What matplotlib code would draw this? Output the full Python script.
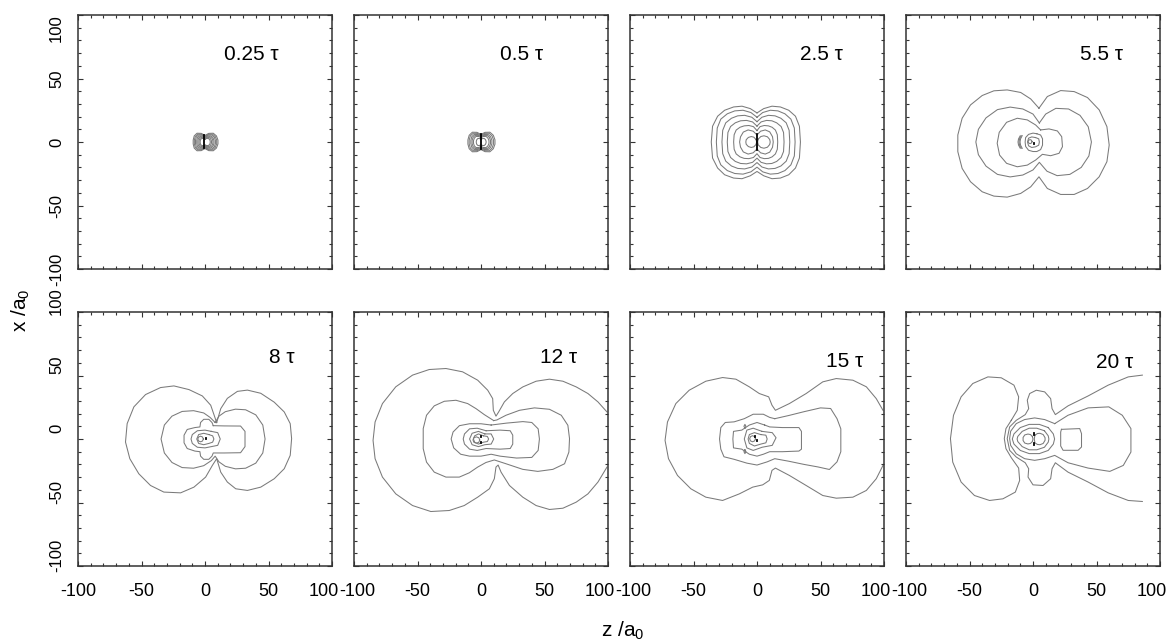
import matplotlib.pyplot as plt
import numpy as np
from matplotlib.ticker import MultipleLocator
from matplotlib.transforms import ScaledTranslation

plt.rcParams['font.family'] = ['Liberation Sans', 'DejaVu Sans']
plt.rcParams['mathtext.fontset'] = 'custom'
plt.rcParams['mathtext.rm'] = 'Liberation Sans'
plt.rcParams['mathtext.it'] = 'Liberation Sans:italic'
plt.rcParams['axes.unicode_minus'] = False

# ---------------------------------------------------------------
# data: contour vertices (z, x) in units of a0
# ---------------------------------------------------------------
panel_labels = ['0.25 τ', '0.5 τ', '2.5 τ', '5.5 τ', '8 τ', '12 τ', '15 τ', '20 τ']
ticks = [-100, -50, 0, 50, 100]

# 0.25 tau
c_025 = [
    [(0, 5.2), (3, 6.8), (6.5, 6.9), (9, 4.8), (10.2, 1.5), (10.2, -1.5), (9, -4.8), (6.5, -6.9), (3, -6.8), (0, -5.2),
     (-3, -6.8), (-6.3, -6.9), (-8.5, -4.8), (-9.3, -1.5), (-9.3, 1.5), (-8.5, 4.8), (-6.3, 6.9), (-3, 6.8), (0, 5.2)],
    [(0, 4.7), (2.7, 6.1), (5.9, 6.2), (8.1, 4.3), (9.2, 1.4), (9.2, -1.4), (8.1, -4.3), (5.9, -6.2), (2.7, -6.1), (0, -4.7),
     (-2.7, -6.1), (-5.7, -6.2), (-7.7, -4.3), (-8.4, -1.4), (-8.4, 1.4), (-7.7, 4.3), (-5.7, 6.2), (-2.7, 6.1), (0, 4.7)],
    [(0, 4.2), (2.5, 5.5), (5.2, 5.6), (7.3, 3.9), (8.2, 1.2), (8.2, -1.2), (7.3, -3.9), (5.2, -5.6), (2.5, -5.5), (0, -4.2),
     (-2.5, -5.5), (-5, -5.6), (-6.9, -3.9), (-7.5, -1.2), (-7.5, 1.2), (-6.9, 3.9), (-5, 5.6), (-2.5, 5.5), (0, 4.2)],
    [(0, 3.6), (2.1, 4.8), (4.6, 4.8), (6.3, 3.4), (7.1, 1.1), (7.1, -1.1), (6.3, -3.4), (4.6, -4.8), (2.1, -4.8), (0, -3.6),
     (-2.1, -4.8), (-4.4, -4.8), (-6, -3.4), (-6.5, -1.1), (-6.5, 1.1), (-6, 3.4), (-4.4, 4.8), (-2.1, 4.8), (0, 3.6)],
    [(0, 3.2), (1.9, 4.1), (3.9, 4.2), (5.5, 2.9), (6.2, 0.9), (6.2, -0.9), (5.5, -2.9), (3.9, -4.2), (1.9, -4.1), (0, -3.2),
     (-1.9, -4.1), (-3.8, -4.2), (-5.2, -2.9), (-5.6, -0.9), (-5.6, 0.9), (-5.2, 2.9), (-3.8, 4.2), (-1.9, 4.1), (0, 3.2)],
    [(0, 2.6), (1.5, 3.4), (3.3, 3.5), (4.5, 2.4), (5.1, 0.8), (5.1, -0.8), (4.5, -2.4), (3.3, -3.5), (1.5, -3.4), (0, -2.6),
     (-1.5, -3.4), (-3.2, -3.5), (-4.3, -2.4), (-4.7, -0.8), (-4.7, 0.8), (-4.3, 2.4), (-3.2, 3.5), (-1.5, 3.4), (0, 2.6)],
    [(0, 2.2), (1.3, 2.8), (2.6, 2.8), (3.7, 1.9), (4.1, 0.6), (4.1, -0.6), (3.7, -1.9), (2.6, -2.8), (1.3, -2.8), (0, -2.2),
     (-1.3, -2.8), (-2.5, -2.8), (-3.5, -1.9), (-3.8, -0.6), (-3.8, 0.6), (-3.5, 1.9), (-2.5, 2.8), (-1.3, 2.8), (0, 2.2)],
]
d_025 = [[(-0.4, 5.5), (-0.4, -4.5)]]

# 0.5 tau
c_05 = [
    [(0, 6), (3.2, 7.6), (7, 7.7), (9.7, 5.3), (11, 1.7), (11, -1.7), (9.7, -5.3), (7, -7.7), (3.2, -7.6), (0, -6),
     (-3.2, -7.6), (-6.8, -7.7), (-9.3, -5.3), (-10.3, -1.7), (-10.3, 1.7), (-9.3, 5.3), (-6.8, 7.7), (-3.2, 7.6), (0, 6)],
    [(0, 5.4), (2.9, 6.8), (6.3, 6.9), (8.7, 4.8), (9.9, 1.5), (9.9, -1.5), (8.7, -4.8), (6.3, -6.9), (2.9, -6.8), (0, -5.4),
     (-2.9, -6.8), (-6.1, -6.9), (-8.4, -4.8), (-9.3, -1.5), (-9.3, 1.5), (-8.4, 4.8), (-6.1, 6.9), (-2.9, 6.8), (0, 5.4)],
    [(0, 4.7), (2.5, 5.9), (5.5, 6), (7.6, 4.1), (8.6, 1.3), (8.6, -1.3), (7.6, -4.1), (5.5, -6), (2.5, -5.9), (0, -4.7),
     (-2.5, -5.9), (-5.3, -6), (-7.3, -4.1), (-8, -1.3), (-8, 1.3), (-7.3, 4.1), (-5.3, 6), (-2.5, 5.9), (0, 4.7)],
    [(0, 4.1), (2.2, 5.2), (4.8, 5.2), (6.6, 3.6), (7.5, 1.2), (7.5, -1.2), (6.6, -3.6), (4.8, -5.2), (2.2, -5.2), (0, -4.1),
     (-2.2, -5.2), (-4.6, -5.2), (-6.3, -3.6), (-7, -1.2), (-7, 1.2), (-6.3, 3.6), (-4.6, 5.2), (-2.2, 5.2), (0, 4.1)],
    [(0, 3.4), (1.8, 4.3), (4, 4.4), (5.5, 3), (6.3, 1), (6.3, -1), (5.5, -3), (4, -4.4), (1.8, -4.3), (0, -3.4),
     (-1.8, -4.3), (-3.9, -4.4), (-5.3, -3), (-5.9, -1), (-5.9, 1), (-5.3, 3), (-3.9, 4.4), (-1.8, 4.3), (0, 3.4)],
    [(0, 2.2), (1.2, 2.7), (2.5, 2.8), (3.5, 1.9), (4, 0.6), (4, -0.6), (3.5, -1.9), (2.5, -2.8), (1.2, -2.7), (0, -2.2),
     (-1.2, -2.7), (-2.4, -2.8), (-3.3, -1.9), (-3.7, -0.6), (-3.7, 0.6), (-3.3, 1.9), (-2.4, 2.8), (-1.2, 2.7), (0, 2.2)],
]
d_05 = [[(0, 6.2), (0, -5.5)]]

# 2.5 tau
c_25 = [
    [(0, 22.9), (5.3, 26.3), (11.8, 28.2), (18.4, 27.6), (25, 25), (30.3, 20.3), (33.4, 12.4), (34.2, 0), (33.4, -12.6),
     (30.3, -20.5), (25, -25.8), (18.4, -28.4), (11.8, -28.9), (5.3, -26.6), (0, -23.2), (-5.3, -26.6), (-11.8, -28.9),
     (-18.4, -28.4), (-25.5, -25.8), (-31, -20.5), (-35, -12.6), (-36, 0), (-35, 12.4), (-31, 20.3), (-25.5, 25),
     (-18.4, 27.6), (-11.8, 28.2), (-5.3, 26.3), (0, 22.9)],
    [(0, 19.5), (4.5, 23.2), (10.5, 25), (16.5, 24.5), (22, 22.2), (26.7, 18), (29.4, 11), (30, 0), (29.4, -11),
     (26.7, -18), (22, -22.5), (16.5, -24.8), (10.5, -25.3), (4.5, -23.5), (0, -19.8), (-4.8, -23.5), (-11, -25.3),
     (-17.5, -24.8), (-23.4, -22.5), (-28.5, -18), (-31.3, -11), (-32, 0), (-31.3, 11), (-28.5, 18), (-23.4, 22.2),
     (-17.5, 24.5), (-11, 25), (-4.8, 23.2), (0, 19.5)],
    [(0, 16), (3.9, 19.5), (9, 21), (14.2, 20.6), (18.8, 18.7), (23, 15.1), (25.3, 9.2), (25.8, 0), (25.3, -9.2),
     (23, -15.1), (18.8, -18.9), (14.2, -20.8), (9, -21.2), (3.9, -19.7), (0, -16.2), (-4.1, -19.7), (-9.7, -21.2),
     (-15.2, -20.8), (-20.1, -18.9), (-24.6, -15.1), (-27, -9.2), (-27.6, 0), (-27, 9.2), (-24.6, 15.1), (-20.1, 18.7),
     (-15.2, 20.6), (-9.7, 21), (-4.1, 19.5), (0, 16)],
    [(0, 12.5), (3.2, 15.8), (7.5, 17), (11.7, 16.7), (15.5, 15.1), (19, 12.2), (20.9, 7.5), (21.3, 0), (20.9, -7.5),
     (19, -12.2), (15.5, -15.3), (11.7, -16.9), (7.5, -17.2), (3.2, -16), (0, -12.7), (-3.5, -16), (-8.2, -17.2),
     (-12.9, -16.9), (-17.1, -15.3), (-20.8, -12.2), (-22.9, -7.5), (-23.4, 0), (-22.9, 7.5), (-20.8, 12.2),
     (-17.1, 15.1), (-12.9, 16.7), (-8.2, 17), (-3.5, 15.8), (0, 12.5)],
    [(0, 9), (2.4, 12.1), (5.7, 13), (9, 12.7), (11.9, 11.6), (14.5, 9.4), (16, 5.7), (16.3, 0), (16, -5.7),
     (14.5, -9.4), (11.9, -11.7), (9, -12.9), (5.7, -13.1), (2.4, -12.2), (0, -9.2), (-2.8, -12.2), (-6.4, -13.1),
     (-10.1, -12.9), (-13.4, -11.7), (-16.4, -9.4), (-18, -5.7), (-18.4, 0), (-18, 5.7), (-16.4, 9.4), (-13.4, 11.6),
     (-10.1, 12.7), (-6.4, 13), (-2.8, 12.1), (0, 9)],
    [(0, 5.5), (2.8, 8.5), (6.5, 9.5), (10, 8), (12.2, 4.2), (12.8, 0), (12.2, -4.2), (10, -8), (6.5, -9.5), (2.8, -8.5),
     (0, -5.5), (-3, -8.5), (-7, -9.5), (-10.8, -7.8), (-13, -4), (-13.7, 0), (-13, 4), (-10.8, 7.8), (-7, 9.5),
     (-3, 8.5), (0, 5.5)],
    [(-0.8, 2), (-2.5, 3.8), (-4.5, 4.3), (-6.8, 3.6), (-8.5, 1.8), (-8.8, 0), (-8.5, -1.8), (-6.8, -3.6), (-4.5, -4.3),
     (-2.5, -3.8), (-0.8, -2), (-0.3, 0), (-0.8, 2)],
    [(1, 2.3), (3, 4.3), (5.5, 4.9), (8.2, 4.1), (10, 2), (10.4, 0), (10, -2), (8.2, -4.1), (5.5, -4.9), (3, -4.3),
     (1, -2.3), (0.5, 0), (1, 2.3)],
]
d_25 = [[(0.3, 6), (0.3, -6)]]

# 5.5 tau
c_55 = [
    [(4.7, 26.6), (11.3, 35.8), (21.8, 40.5), (32.4, 39.7), (42.9, 35), (52.1, 25.3), (58.2, 12.1), (60, -2.4),
     (58.2, -15.5), (52.1, -27.4), (42.9, -36.6), (32.4, -41.3), (21.8, -41.3), (11.3, -36.6), (4.7, -27.4),
     (-1.8, -35.3), (-9.7, -40.5), (-20.3, -43.4), (-30.8, -42.6), (-40, -39.2), (-49.2, -31.3), (-55.8, -20.8),
     (-59.2, -7.6), (-59.2, 5.5), (-55.8, 18.7), (-49.2, 29.2), (-40, 36.6), (-30.8, 40.3), (-20.3, 41), (-9.7, 39),
     (-1.8, 33.9), (4.7, 26.6)],
    [(5, 15), (10, 22), (18, 26.5), (28, 26), (37, 21), (43.5, 12), (46, 0), (44, -11), (38, -20), (29, -25.5),
     (19, -26.5), (11, -23), (5, -16), (0, -22), (-8, -26), (-18, -27.5), (-28, -25.5), (-37, -19), (-43, -10),
     (-45, 0), (-43, 10), (-37, 19), (-28, 25.5), (-18, 27.5), (-8, 26), (0, 22), (5, 15)],
    [(6, 9.5), (12.6, 10.3), (19.2, 8.7), (22.6, 4.2), (23.2, -3.7), (20.5, -8.9), (13.9, -10.8), (7.4, -9.7),
     (2.1, -14.2), (-4.5, -18.2), (-12.4, -19.5), (-20.8, -16.8), (-26.3, -10.3), (-28.2, -1), (-26.6, 7.6),
     (-20.8, 15.5), (-12.4, 18.7), (-4.5, 17.4), (2.1, 13.4), (6, 9.5)],
    [(3, 6.5), (6, 5.5), (7.5, 2.5), (7.5, -2.5), (6, -6), (3, -7.5), (0, -7.5), (-3.5, -6.5), (-5.8, -3.5), (-6.2, 0),
     (-5.8, 3.5), (-3.5, 6), (0, 7), (3, 6.5)],
    [(2, 3.5), (4.5, 2.5), (5, 0), (4.5, -2.5), (2, -3.8), (-1, -4.3), (-3.5, -3), (-4.3, 0), (-3.5, 3), (-1, 4), (2, 3.5)],
    [(-0.7, 0.3), (-1.2, 1.4), (-2.3, 1.9), (-3.4, 1.4), (-3.9, 0.3), (-3.4, -0.8), (-2.3, -1.3), (-1.2, -0.8), (-0.7, 0.3)],
    [(-8.5, 5), (-9.8, 2.5), (-10.2, 0), (-9.8, -2.5), (-8.5, -5)],
    [(-9.3, 5), (-10.6, 2.5), (-11, 0), (-10.6, -2.5), (-9.3, -5)],
    [(-10.1, 4.8), (-11.4, 2.4), (-11.8, 0), (-11.4, -2.4), (-10.1, -4.8)],
]
d_55 = [[(-0.5, 1.8), (-0.5, 1.2)], [(0.8, -0.7), (0.8, -1.3)]]

# 8 tau
c_8 = [
    [(9.2, 12.9), (12.4, 23.9), (17.6, 32), (25.5, 37.5), (33.4, 38.5), (43.9, 36), (54.5, 29), (62.4, 21.3),
     (67.1, 12.1), (68.2, 0.3), (67.1, -12.9), (62.4, -23.4), (54.5, -31.3), (43.9, -37.9), (33.4, -40.5),
     (24.2, -39.2), (17.6, -33.9), (12.4, -26.1), (9.2, -15.5), (5.8, -20.8), (0.5, -30), (-8.7, -37.9),
     (-19.2, -42.4), (-32.4, -41.8), (-42.9, -36.6), (-52.1, -27.4), (-59.2, -15.5), (-62.6, -2.4), (-61.3, 12.1),
     (-56, 25.3), (-46.8, 35), (-35, 40.5), (-24.5, 41.8), (-12.6, 38.9), (-2.1, 33.9), (4.5, 26.6), (9.2, 12.9)],
    [(8, 13), (11, 18), (16, 21.5), (24, 23.5), (32, 23), (40, 19), (45.5, 11), (47.3, 0), (45.5, -11), (40, -19),
     (32, -23), (24, -23.5), (16, -21.5), (11, -18), (8, -13.5), (5, -17), (-1, -21), (-9, -23), (-18, -22.5),
     (-26, -18.5), (-32, -11), (-34.6, 0), (-32, 11), (-26, 18), (-18, 21.7), (-9, 22.3), (-1, 20.5), (4, 17), (8, 13)],
    [(6.5, 10.5), (15, 10.3), (28, 10.2), (31.5, 6), (31.5, -6), (28, -10.8), (15, -11), (6.5, -11), (5.5, -13.5),
     (3, -16), (-1, -16), (-3.5, -13.5), (-4, -10), (-8, -9.5), (-14, -7.5), (-16.5, -3), (-16.5, 3), (-14, 7.5),
     (-8, 9), (-4, 9.5), (-3.5, 13), (-1, 15.5), (3, 15.5), (5.5, 13), (6.5, 10.5)],
    [(5, 6), (10, 5), (12, 0), (10, -5), (5, -6), (0, -7), (-6, -6.5), (-10, -3.5), (-11, 0), (-10, 3.5), (-6, 6.5),
     (0, 7), (5, 6)],
    [(3, 3.5), (6, 2.5), (7, 0), (6, -2.5), (3, -3.5), (-1, -4.5), (-5, -3.5), (-6.5, 0), (-5, 3.5), (-1, 4.5), (3, 3.5)],
    [(-1.3, 0), (-2, 1.6), (-3.5, 2.2), (-5, 1.6), (-5.7, 0), (-5, -1.6), (-3.5, -2.2), (-2, -1.6), (-1.3, 0)],
]
d_8 = [[(0.5, 0.9), (0.5, 0.2)], [(0.8, -1.2), (0.8, -1.9)]]

# 12 tau
c_12 = [
    [(99.2, 21.3), (92.1, 29.2), (84.2, 35.8), (75, 41), (64.5, 45.5), (53.9, 47.1), (43.4, 45.5), (32.9, 41),
     (25, 35.8), (18.4, 29.2), (13.9, 21.3), (11.8, 18), (9.7, 22.6), (9.2, 31.8), (5.3, 38.4), (-2.6, 46.3),
     (-14.5, 52.9), (-27.6, 55.5), (-40.8, 54.7), (-53.9, 50.3), (-67.1, 41.1), (-77.6, 27.9), (-83.4, 13.4),
     (-85, -1.1), (-83.4, -15.5), (-77.6, -30), (-67.1, -43.2), (-53.9, -52.4), (-39.5, -57.1), (-25, -56.3),
     (-13.2, -52.4), (-2.6, -45.8), (6.6, -39.2), (10.5, -31.3), (11.8, -22.1), (13.5, -20.5), (15.8, -26.1),
     (22.4, -36.6), (32.9, -45.8), (43.4, -52.4), (53.9, -55.5), (64.5, -54.5), (75, -49.7), (84.2, -43.2),
     (92.1, -33.9), (99.2, -22.1)],
    [(10, 14.5), (2.6, 19.2), (-3.9, 23.9), (-10.5, 27.9), (-19.7, 30.5), (-28.9, 29.7), (-36.8, 26.1), (-42.9, 18.7),
     (-45.5, 8.2), (-45.5, -7.6), (-42.9, -18.2), (-36.8, -26.1), (-27.6, -30), (-17.1, -30), (-9.2, -26.6),
     (-2.6, -22.1), (3.9, -18.5), (10.5, -16.5), (19.7, -19.5), (32.9, -23.9), (44.7, -25.5), (56.6, -23.9),
     (65.8, -19.5), (69.2, -10.3), (69.7, 0.3), (68.4, 10.8), (63.2, 18.7), (53.9, 23.4), (42.1, 24.5), (30.3, 22.6),
     (19.7, 18.7), (12.5, 15), (10, 14.5)],
    [(8, 11), (20, 12.5), (33, 13.7), (40, 13), (45, 8), (46, 0), (45, -9), (40, -14.5), (28, -15), (15, -13.5),
     (8, -12), (0, -13.5), (-9, -13.5), (-16, -12), (-21.5, -7), (-23.5, 0), (-22, 5.5), (-17, 10.5), (-9, 12), (0, 12),
     (8, 11)],
    [(4, 6.5), (15, 7), (23, 6.5), (25, 3), (25, -4), (23, -7.5), (15, -8), (4, -7.5), (-3, -9), (-9, -8), (-13, -4),
     (-14, 0), (-13, 4), (-9, 8), (-3, 8.5), (4, 6.5)],
    [(3, 4), (8, 4), (10, 0), (8, -4), (3, -4.5), (-2, -6), (-7, -4.5), (-9, 0), (-7, 4.5), (-2, 6), (3, 4)],
    [(2, 2.5), (5, 2), (6, 0), (5, -2), (2, -2.5), (-2, -4), (-5, -2.5), (-6, 0), (-5, 2.5), (-2, 4), (2, 2.5)],
    [(-1, -0.8), (-1.7, 1), (-3.7, 1.7), (-5.6, 1), (-6.3, -0.8), (-5.6, -2.6), (-3.7, -3.3), (-1.7, -2.6), (-1, -0.8)],
]
d_12 = [[(0, 2.5), (0, 1.7)], [(0, -2), (0, -2.8)]]

# 15 tau
c_15 = [
    [(99.2, 22.6), (93.9, 31.8), (86.1, 41.1), (75.5, 46.3), (62.4, 47.6), (51.8, 45), (38.7, 35.8), (25.5, 27.9),
     (14.5, 22.6), (11.8, 26.6), (9.2, 33.2), (1.8, 35.8), (-6.1, 41.1), (-16.6, 47.1), (-27.1, 48.4), (-40.3, 45.5),
     (-53.4, 38.4), (-63.9, 27.9), (-70.5, 13.4), (-72.4, -1.1), (-69.7, -15.5), (-62.6, -28.7), (-52.1, -39.2),
     (-40.3, -45.8), (-27.1, -48.4), (-13.9, -43.2), (-3.4, -37.9), (4.5, -36.1), (9.7, -32.6), (11.8, -24.7),
     (14.5, -22.9), (25.5, -28.7), (38.7, -36.6), (51.8, -44.5), (62.4, -46.6), (75.5, -45.8), (86.1, -40.5),
     (93.9, -31.3), (99.2, -20.8)],
    [(14, 16), (25, 18.5), (37, 21.5), (50, 24.5), (58, 24), (63, 16), (66, 8), (66, -10), (63, -18), (57, -24),
     (48, -22), (37, -20), (25, -17.5), (14, -15.5), (8, -18), (0, -20.5), (-8, -19), (-18, -16), (-26, -14),
     (-28.5, -8), (-29.5, 0), (-28.5, 9), (-25, 13), (-18, 13.5), (-10, 16), (-3, 19.5), (5, 19.5), (10, 17), (14, 16)],
    [(6, 11), (10, 9.5), (20, 9), (33, 9), (35, 6), (35, -8), (33, -9.5), (20, -10), (10, -10), (5, -12), (0, -13.5),
     (-6, -12), (-12, -8), (-18.5, -7), (-19, 0), (-18.5, 6), (-12, 7), (-6, 11), (0, 13), (6, 11)],
    [(4, 6), (12, 5), (15, 1), (12, -5), (4, -6.5), (-3, -9), (-8, -7), (-10, 0), (-8, 7), (-3, 8.5), (4, 6)],
    [(3, 3.5), (7, 3), (8, 0), (7, -3), (3, -4), (-2, -5.5), (-6, -3.5), (-7, 0), (-6, 3.5), (-2, 5), (3, 3.5)],
    [(-1.2, 0.2), (-1.9, 1.9), (-3.5, 2.6), (-5.1, 1.9), (-5.8, 0.2), (-5.1, -1.5), (-3.5, -2.2), (-1.9, -1.5), (-1.2, 0.2)],
    [(-9.5, 8.5), (-10.3, 10), (-9.5, 11.5), (-8.7, 10), (-9.5, 8.5)],
    [(-9.5, -8.5), (-10.3, -10), (-9.5, -11.5), (-8.7, -10), (-9.5, -8.5)],
]
d_15 = [[(-1.5, 2), (-1.5, 1.3)], [(-0.3, -0.7), (-0.3, -1.4)]]

# 20 tau
c_20 = [
    [(-17.1, 14.7), (-12.4, 22.6), (-11.3, 33.2), (-15, 42.4), (-25, 48.2), (-35.5, 48.9), (-47.4, 43.7),
     (-56.6, 33.2), (-62.6, 18.7), (-65, 0.3), (-63.2, -18.2), (-56.6, -33.9), (-46.1, -44.5), (-34.2, -48.4),
     (-23.7, -47.1), (-13.9, -41.8), (-10.5, -32.6), (-11.3, -22.9), (-17.1, -14.7), (-21.3, -7.6), (-22.6, 0.3),
     (-21.3, 8.2), (-17.1, 14.7)],
    [(86.1, 50.3), (75, 48.9), (59.2, 42.4), (43.4, 33.9), (27.6, 26.1), (17.6, 19.2), (15, 23.9), (13.9, 31.8),
     (9.2, 37.1), (2.6, 38.4), (-2.6, 35.8), (-4.5, 30.5), (-3.4, 23.9), (-6.1, 19.2), (-13.2, 14.7), (-18.4, 9.5),
     (-20.3, 0.3), (-18.4, -8.9), (-13.2, -14.2), (-6.1, -18.7), (-3.4, -23.4), (-3.9, -30), (0, -36.1), (7.9, -36.6),
     (13.9, -31.3), (15, -23.4), (17.6, -18.7), (27.6, -26.1), (43.4, -33.9), (59.2, -42.4), (75, -48.4), (86.1, -49.2)],
    [(17.1, 12.1), (27.6, 18.7), (43.4, 24.5), (59.7, 25.3), (70.3, 18.7), (77.1, 8.2), (77.1, -10.3), (71.1, -20.8),
     (60.5, -25.5), (43.4, -22.9), (27.6, -18.7), (17.1, -12.9), (9.2, -15.5), (1.3, -16.8), (-6.6, -15.5),
     (-13.2, -11.6), (-17.6, -5), (-18.4, 0.3), (-17.6, 6.1), (-13.2, 12.1), (-6.6, 15.3), (1.3, 16.6), (9.2, 15.3),
     (17.1, 12.1)],
    [(12, 9), (16, 4), (17, 0), (16, -4), (12, -9), (5, -11.5), (-3, -11.5), (-10, -9), (-15, -4), (-16.3, 0),
     (-15, 4), (-10, 9), (-3, 11.5), (5, 11.5), (12, 9)],
    [(9, 6.5), (12, 2.5), (12.5, 0), (12, -2.5), (9, -6.5), (3, -8.5), (-3, -8.5), (-8.5, -6), (-12, -2), (-12.5, 0),
     (-12, 2), (-8.5, 6), (-3, 8.5), (3, 8.5), (9, 6.5)],
    [(-0.5, 2), (-2, 3.5), (-4, 3.9), (-6.5, 3.2), (-7.8, 1.2), (-7.8, -1.2), (-6.5, -3.2), (-4, -3.9), (-2, -3.5),
     (-0.5, -2), (0, 0), (-0.5, 2)],
    [(1.5, 3), (3.5, 4.3), (5.5, 4.5), (8, 3.5), (9.5, 1), (9.5, -1), (8, -3.5), (5.5, -4.5), (3.5, -4.3), (1.5, -3),
     (1, 0), (1.5, 3)],
    [(22.4, 7.6), (36.8, 8.2), (38.2, 4.2), (38.2, -6.3), (35.5, -8.9), (23.7, -8.9), (21.8, -5.5), (21.8, 5.5),
     (22.4, 7.6)],
]
d_20 = [[(0.8, 5), (0.8, 3.2)], [(0.8, -2.8), (0.8, -4.6)]]

panel_contours = [c_025, c_05, c_25, c_55, c_8, c_12, c_15, c_20]
panel_dark = [d_025, d_05, d_25, d_55, d_8, d_12, d_15, d_20]

# label placement (axes fraction, right edge)
label_x = [0.79, 0.745, 0.837, 0.855, 0.854, 0.878, 0.917, 0.895]
label_y = [0.843, 0.843, 0.843, 0.843, 0.82, 0.82, 0.807, 0.80]

# ---------------------------------------------------------------
# figure
# ---------------------------------------------------------------
W, H = 1168, 641
fig = plt.figure(figsize=(W / 100, H / 100), dpi=100)

col_left = [78, 354, 630, 906]
row_top = [15, 312]
size = 254


def nudge(text, dx, dy):
    # shift a tick label by a few pixels
    text.set_transform(text.get_transform() + ScaledTranslation(dx / 100, dy / 100, fig.dpi_scale_trans))


for i in range(8):
    r, c = divmod(i, 4)
    ax = fig.add_axes([col_left[c] / W, 1 - (row_top[r] + size) / H, size / W, size / H])

    for line in panel_contours[i]:
        a = np.array(line)
        ax.plot(a[:, 0], a[:, 1], color='#7a7a7a', lw=0.75, solid_joinstyle='round')
    for line in panel_dark[i]:
        a = np.array(line)
        ax.plot(a[:, 0], a[:, 1], color='black', lw=1.3)

    ax.set_xlim(-100, 100)
    ax.set_ylim(-100, 100)
    ax.set_xticks(ticks)
    ax.set_yticks(ticks)
    ax.xaxis.set_minor_locator(MultipleLocator(10))
    ax.yaxis.set_minor_locator(MultipleLocator(10))
    ax.tick_params(which='both', direction='in', top=True, right=True, color='#333333', width=0.8)
    ax.tick_params(which='major', length=3.8)
    ax.tick_params(which='minor', length=2.2)
    ax.tick_params(axis='x', labelsize=13, pad=12)
    ax.tick_params(axis='y', labelsize=12, pad=10, labelrotation=90)
    for s in ax.spines.values():
        s.set_linewidth(1.1)
        s.set_color('#333333')

    if r == 0:
        ax.set_xticklabels([])
    else:
        xt = ax.xaxis.get_major_ticks()
        nudge(xt[-1].label1, -8, 0)
        if c > 0:
            nudge(xt[0].label1, 3, 0)
    if c != 0:
        ax.set_yticklabels([])
    else:
        yt = ax.yaxis.get_major_ticks()
        for t in yt:
            t.label1.set_verticalalignment('center')
        if r == 0:
            nudge(yt[-1].label1, 0, -13)
        else:
            for t in yt:
                nudge(t.label1, 0, 11)

    ax.text(label_x[i], label_y[i], panel_labels[i], transform=ax.transAxes,
            ha='right', va='center', fontsize=15)

fig.text(21 / W, 1 - 310 / H, 'x /a$_0$', rotation=90, ha='center', va='center', fontsize=15)
fig.text(623 / W, 1 - 631 / H, 'z /a$_0$', ha='center', va='center', fontsize=15)

fig.savefig('out.png', dpi=100)
